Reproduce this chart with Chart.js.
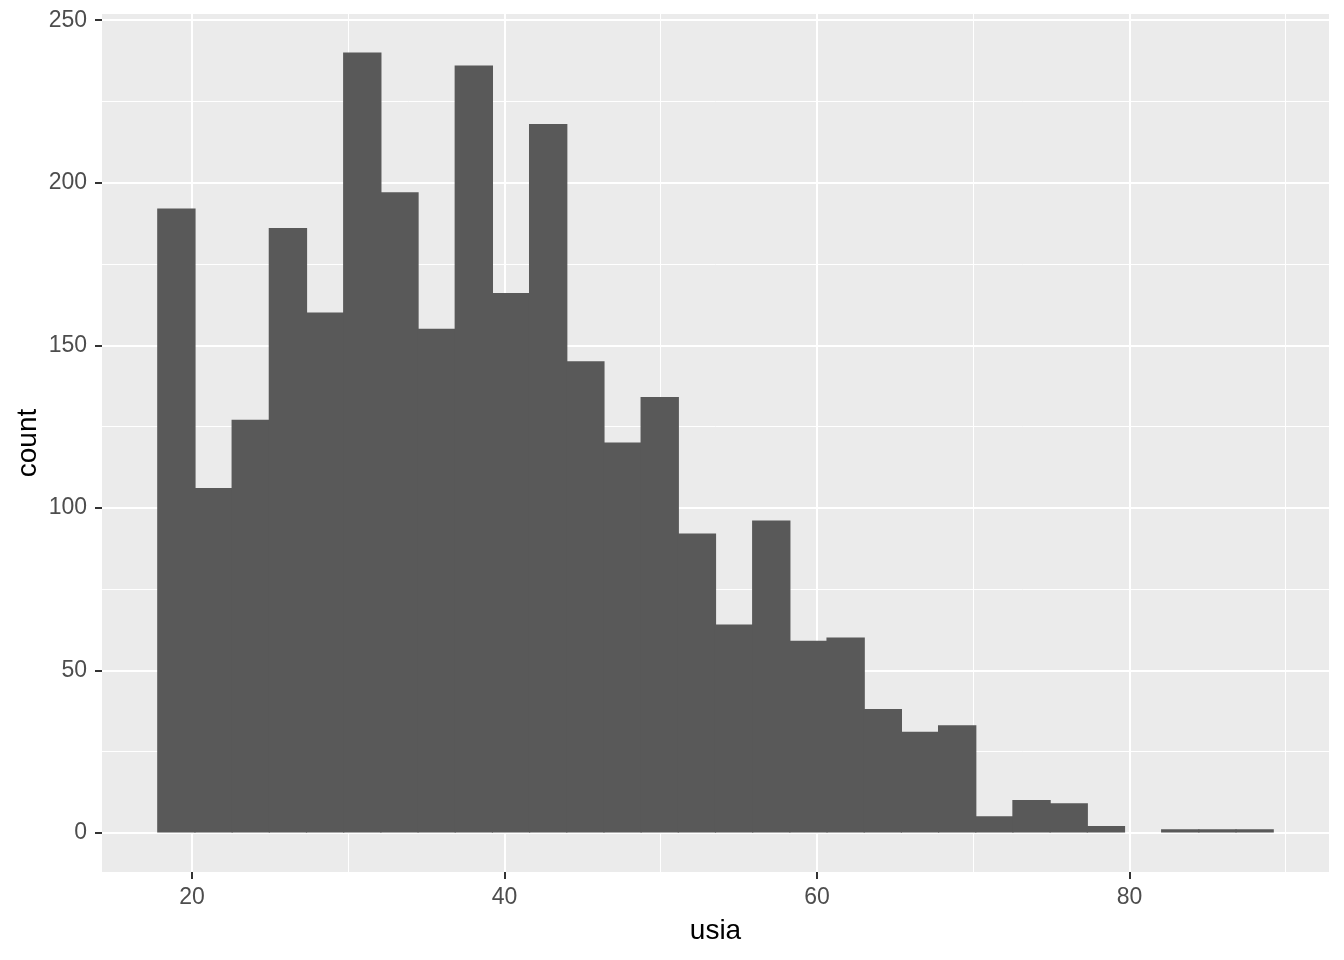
<!DOCTYPE html>
<html>
<head>
<meta charset="utf-8">
<script src="https://cdn.jsdelivr.net/npm/chart.js@4.4.0/dist/chart.umd.min.js"></script>
<style>
  html, body { margin: 0; padding: 0; background: #ffffff; }
</style>
</head>
<body>
<canvas id="chart" width="1344" height="960"></canvas>
<script>
// histogram of usia, 30 bins (centres of the bins)
const binCenters = [19.000, 21.379, 23.759, 26.138, 28.517, 30.897, 33.276, 35.655, 38.034, 40.414,
                    42.793, 45.172, 47.552, 49.931, 52.310, 54.690, 57.069, 59.448, 61.828, 64.207,
                    66.586, 68.966, 71.345, 73.724, 76.103, 78.483, 80.862, 83.241, 85.621, 88.000];
const counts = [192, 106, 127, 186, 160, 240, 197, 155, 236, 166,
                218, 145, 120, 134, 92, 64, 96, 59, 60, 38,
                31, 33, 5, 10, 9, 2, 0, 1, 1, 1];

// axis breaks
const xTicks = [20, 30, 40, 50, 60, 70, 80, 90];
const xMajor = [20, 40, 60, 80];
const yTicks = [0, 25, 50, 75, 100, 125, 150, 175, 200, 225, 250];
const yMajor = [0, 50, 100, 150, 200, 250];

const FONT = "'Liberation Sans', Arial, sans-serif";

// grey panel behind the plot
const panelBg = {
    id: 'panelBg',
    beforeDraw: function (chart) {
        const a = chart.chartArea;
        const ctx = chart.ctx;
        ctx.save();
        ctx.fillStyle = '#EBEBEB';
        ctx.fillRect(a.left, a.top, a.right - a.left, a.bottom - a.top);
        ctx.restore();
    }
};

// bars are inflated a bit to hide seams; cut them off at count = 0
const clipAtZero = {
    id: 'clipAtZero',
    beforeDatasetsDraw: function (chart) {
        const a = chart.chartArea;
        const y0 = Math.round(chart.scales.y.getPixelForValue(0));
        chart.ctx.save();
        chart.ctx.beginPath();
        chart.ctx.rect(a.left, a.top, a.right - a.left, y0 - a.top);
        chart.ctx.clip();
    },
    afterDatasetsDraw: function (chart) {
        chart.ctx.restore();
    }
};

function gridStyle(major) {
    return {
        color: '#FFFFFF',
        lineWidth: function (c) { return major.includes(c.tick.value) ? 2 : 1; },
        tickColor: function (c) { return major.includes(c.tick.value) ? '#333333' : 'rgba(0,0,0,0)'; },
        tickWidth: 2,
        tickLength: 7,
        drawTicks: true
    };
}

// no extra room for the end labels, the layout padding handles it
function noPad(s) {
    s.paddingTop = 0;
    s.paddingBottom = 0;
    s.paddingLeft = 0;
    s.paddingRight = 0;
}

const ctx = document.getElementById('chart').getContext('2d');
new Chart(ctx, {
    type: 'bar',
    data: {
        datasets: [{
            // empty bins are left out, otherwise a sliver is drawn
            data: binCenters.map((x, i) => ({ x: x, y: counts[i] === 0 ? null : counts[i] })),
            backgroundColor: '#595959',
            borderWidth: 0,
            inflateAmount: 0.6,
            barPercentage: 1,
            categoryPercentage: 1
        }]
    },
    options: {
        responsive: false,
        animation: false,
        layout: { padding: { top: 14, right: 15, left: 0, bottom: 0 } },
        plugins: {
            legend: { display: false },
            tooltip: { enabled: false }
        },
        scales: {
            x: {
                type: 'linear',
                min: 14.24,
                max: 92.76,
                offset: false,
                afterBuildTicks: function (s) { s.ticks = xTicks.map(v => ({ value: v })); },
                afterFit: function (s) { s.height = 88; noPad(s); },
                border: { display: false },
                grid: Object.assign({ offset: false }, gridStyle(xMajor)),
                ticks: {
                    autoSkip: false,
                    maxRotation: 0,
                    padding: 5,
                    color: '#4D4D4D',
                    font: { family: FONT, size: 23 },
                    callback: function (v) { return xMajor.includes(v) ? String(v) : ''; }
                },
                title: {
                    display: true,
                    text: 'usia',
                    color: '#000000',
                    font: { family: FONT, size: 28 },
                    padding: { top: 0, bottom: 12 }
                }
            },
            y: {
                type: 'linear',
                min: -12,
                max: 252,
                afterBuildTicks: function (s) { s.ticks = yTicks.map(v => ({ value: v })); },
                afterFit: function (s) { s.width = 102; noPad(s); },
                border: { display: false },
                grid: gridStyle(yMajor),
                ticks: {
                    autoSkip: false,
                    padding: 8,
                    color: '#4D4D4D',
                    font: { family: FONT, size: 23 },
                    callback: function (v) { return yMajor.includes(v) ? String(v) : ''; }
                },
                title: {
                    display: true,
                    text: 'count',
                    color: '#000000',
                    font: { family: FONT, size: 28 },
                    padding: { top: 11, bottom: 0 }
                }
            }
        }
    },
    plugins: [panelBg, clipAtZero]
});
</script>
</body>
</html>
